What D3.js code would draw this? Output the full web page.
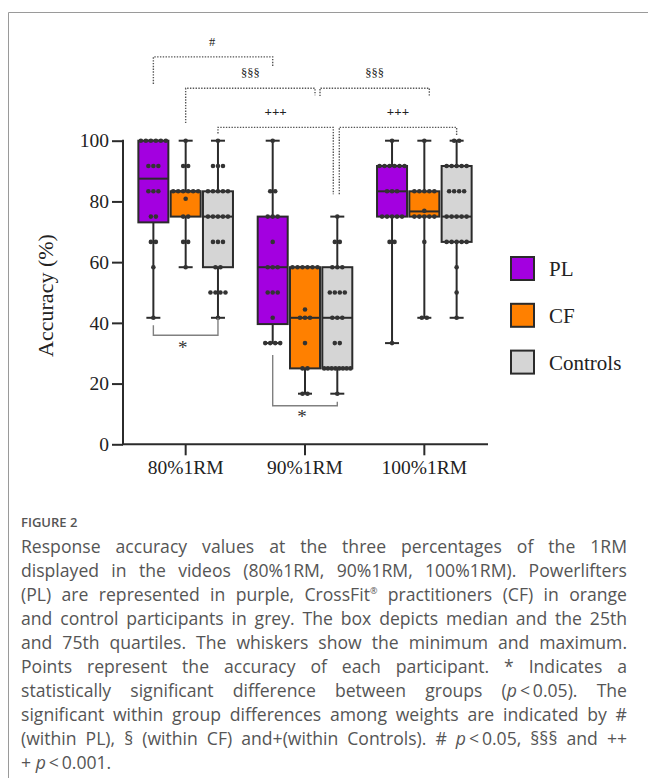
<!DOCTYPE html>
<html>
<head>
<meta charset="utf-8">
<script src="https://cdn.jsdelivr.net/npm/d3@7"></script>
<style>
  body { margin: 0; background: #fff; }
  #wrap { position: relative; width: 648px; height: 778px; overflow: hidden; }
  svg { position: absolute; left: 0; top: 0; }
  #caption { position: absolute; left: 21px; top: 510px; width: 606px; font-family: "Open Sans", sans-serif; color: #555; }
  #caption .fig { font-size: 13px; font-weight: 600; line-height: 24px; }
  #caption .ln { font-size: 17.6px; line-height: 24px; text-align: justify; text-align-last: justify; white-space: nowrap; }
  #caption .ln.last { text-align-last: left; }
  #caption sup { font-size: 9px; line-height: 0; }
</style>
</head>
<body>
<div id="wrap"></div>
<script>
const width = 648;
const height = 778;

const weights = ["80%1RM", "90%1RM", "100%1RM"];
const groups = ["PL", "CF", "Controls"];
const colors = ["#a300e0", "#ff8000", "#d5d5d5"];
const yTicks = [0, 20, 40, 60, 80, 100];

// box stats per weight: [min, q1, median, q3, max]
const plBox = [[41.67, 73.1, 87.5, 100, 100], [33.33, 39.6, 58.33, 75, 100], [33.33, 75, 83.33, 91.67, 100]];
const cfBox = [[58.33, 75, 83.33, 83.33, 100], [16.67, 25, 41.67, 58.33, 58.33], [41.67, 75, 76.7, 83.33, 100]];
const ctrlBox = [[41.67, 58.33, 75, 83.33, 100], [16.67, 25, 41.67, 58.33, 75], [41.67, 66.67, 75, 91.67, 100]];

// participant points per weight: [value, how many]
const plPoints = [
  [[100, 6], [91.67, 3], [83.33, 3], [75, 2], [66.67, 2], [58.33, 1], [41.67, 1]],
  [[100, 1], [83.33, 2], [75, 3], [66.67, 1], [58.33, 3], [50, 3], [41.67, 1], [33.33, 4]],
  [[100, 1], [91.67, 6], [83.33, 3], [75, 5], [66.67, 2], [33.33, 1]]
];
const cfPoints = [
  [[100, 1], [91.67, 2], [83.33, 6], [80.9, 1], [75, 2], [66.67, 2], [58.33, 1]],
  [[58.33, 6], [44.4, 1], [41.67, 3], [33.33, 1], [25, 2], [16.67, 2]],
  [[100, 1], [83.33, 5], [76.9, 1], [75, 5], [66.67, 1], [41.67, 2]]
];
const ctrlPoints = [
  [[100, 1], [91.67, 3], [83.33, 5], [75, 5], [66.67, 3], [58.33, 2], [50, 4], [41.67, 1]],
  [[75, 1], [66.67, 2], [58.33, 3], [50, 4], [41.67, 3], [33.33, 2], [25, 8], [16.67, 1]],
  [[100, 2], [91.67, 5], [83.33, 4], [75, 5], [66.67, 5], [58.33, 1], [50, 1], [41.67, 1]]
];

const boxes = [plBox, cfBox, ctrlBox];
const points = [plPoints, cfPoints, ctrlPoints];

const svg = d3.select("#wrap").append("svg")
  .attr("width", width)
  .attr("height", height)
  .style("font-family", "'Liberation Serif', 'Times New Roman', serif");

// frame
svg.append("path")
  .attr("d", "M8.5,778V12.5H648")
  .attr("fill", "none")
  .attr("stroke", "#9a9a9a")
  .attr("stroke-width", 1);

const y = d3.scaleLinear().domain([0, 100]).range([444.3, 140.7]);
const x = d3.scaleBand().domain(weights).range([126, 484]);
const off = d3.scalePoint().domain(groups).range([-32.3, 32.3]);
const cx = (w, g) => x(w) + x.bandwidth() / 2 + off(g);
const boxW = 30;
const ink = "#2b2b2b";

// axes
const yAxis = svg.append("g")
  .attr("transform", "translate(123,0)")
  .call(d3.axisLeft(y).tickValues(yTicks).tickSize(11).tickPadding(3));
yAxis.select(".domain").remove();
yAxis.append("line").attr("y1", y(100) - 1).attr("y2", y(0)).attr("stroke", ink).attr("stroke-width", 2);
yAxis.selectAll(".tick line").attr("stroke", ink).attr("stroke-width", 2);
yAxis.selectAll(".tick text")
  .attr("fill", "#222")
  .style("font-size", "19.5px")
  .style("font-family", "'Liberation Serif', serif");

const xAxis = svg.append("g")
  .attr("transform", `translate(0,${y(0)})`)
  .call(d3.axisBottom(x).tickSize(11).tickPadding(5));
xAxis.select(".domain").remove();
xAxis.append("line").attr("x1", 122).attr("x2", 488).attr("stroke", ink).attr("stroke-width", 2);
xAxis.selectAll(".tick line").attr("stroke", ink).attr("stroke-width", 2);
xAxis.selectAll(".tick text")
  .attr("fill", "#222")
  .style("font-size", "19.5px")
  .style("font-family", "'Liberation Serif', serif");

svg.append("text")
  .attr("transform", `translate(53,${(y(0) + y(100)) / 2 + 3}) rotate(-90)`)
  .attr("text-anchor", "middle")
  .attr("fill", "#222")
  .style("font-size", "22px")
  .text("Accuracy (%)");

// boxes, whiskers, points
groups.forEach((g, gi) => {
  weights.forEach((w, wi) => {
    const [mn, q1, md, q3, mx] = boxes[gi][wi];
    const c = cx(w, g);
    const gg = svg.append("g");
    gg.append("line").attr("x1", c).attr("x2", c).attr("y1", y(mx)).attr("y2", y(mn))
      .attr("stroke", ink).attr("stroke-width", 2);
    [mn, mx].forEach((v) => {
      gg.append("line").attr("x1", c - 7).attr("x2", c + 7).attr("y1", y(v)).attr("y2", y(v))
        .attr("stroke", ink).attr("stroke-width", 2);
    });
    gg.append("rect")
      .attr("x", c - boxW / 2).attr("width", boxW)
      .attr("y", y(q3)).attr("height", y(q1) - y(q3))
      .attr("fill", colors[gi]).attr("stroke", ink).attr("stroke-width", 2);
    gg.append("line").attr("x1", c - boxW / 2).attr("x2", c + boxW / 2).attr("y1", y(md)).attr("y2", y(md))
      .attr("stroke", ink).attr("stroke-width", 2);

    points[gi][wi].forEach(([v, n]) => {
      const sp = Math.min(5, 30 / n);
      d3.range(n).forEach((i) => {
        gg.append("circle")
          .attr("cx", c + (i - (n - 1) / 2) * sp)
          .attr("cy", y(v))
          .attr("r", 2.3)
          .attr("fill", "#333");
      });
    });
  });
});

// legend
const legend = svg.append("g");
groups.forEach((g, i) => {
  const ly = 257 + i * 46.8;
  legend.append("rect").attr("x", 511).attr("y", ly).attr("width", 23).attr("height", 23)
    .attr("fill", colors[i]).attr("stroke", ink).attr("stroke-width", 2);
  legend.append("text").attr("x", 549).attr("y", ly + 19).attr("fill", "#222")
    .style("font-size", "21px").text(g);
});

// within-group brackets (dotted)
const dotted = [
  { x1: cx("80%1RM", "PL"), x2: cx("90%1RM", "PL"), yl: 127.6, e1: 118.7, e2: 124.6, label: "#", ly: 132.6, lx: 212 },
  { x1: cx("80%1RM", "CF"), x2: cx("90%1RM", "CF") + 10, yl: 117.3, e1: 105.8, e2: 115, label: "§§§", ly: 122.4 },
  { x1: cx("90%1RM", "CF") + 15, x2: cx("100%1RM", "CF") + 5, yl: 117.3, e1: 114.7, e2: 114.7, label: "§§§", ly: 122.4 },
  { x1: cx("80%1RM", "Controls"), x2: cx("90%1RM", "Controls") - 4, yl: 104.4, e1: 102.4, e2: 82.4, label: "+++", ly: 109.7 },
  { x1: cx("90%1RM", "Controls") + 2, x2: cx("100%1RM", "Controls"), yl: 104.4, e1: 82.4, e2: 101.9, label: "+++", ly: 109.7 }
];
dotted.forEach((b) => {
  svg.append("path")
    .attr("d", `M${b.x1},${y(b.e1)}V${y(b.yl)}H${b.x2}V${y(b.e2)}`)
    .attr("fill", "none").attr("stroke", "#555").attr("stroke-width", 1.4)
    .attr("stroke-dasharray", "1.4,1.4");
  svg.append("text")
    .attr("x", b.lx || (b.x1 + b.x2) / 2)
    .attr("y", y(b.ly) + 4.5)
    .attr("text-anchor", "middle")
    .attr("fill", "#222")
    .style("font-size", b.label === "+++" ? "13px" : "12.5px")
    .style("font-weight", b.label === "+++" ? "bold" : "normal")
    .text(b.label);
});

// between-group brackets (solid)
const solid = [
  { x1: cx("80%1RM", "PL"), x2: cx("80%1RM", "Controls"), yl: 35.9, e1: 39.2, e2: 41.6, ly: 32.5 },
  { x1: cx("90%1RM", "PL"), x2: cx("90%1RM", "Controls"), yl: 12.7, e1: 29.4, e2: 14, ly: 9.5 }
];
solid.forEach((b) => {
  svg.append("path")
    .attr("d", `M${b.x1},${y(b.e1)}V${y(b.yl)}H${b.x2}V${y(b.e2)}`)
    .attr("fill", "none").attr("stroke", "#808080").attr("stroke-width", 1.4);
  svg.append("text")
    .attr("x", (b.x1 + b.x2) / 2 - 3)
    .attr("y", y(b.ly) + 8)
    .attr("text-anchor", "middle")
    .attr("fill", "#333")
    .style("font-size", "19px")
    .text("*");
});

// caption
const captionLines = [
  "Response accuracy values at the three percentages of the 1RM",
  "displayed in the videos (80%1RM, 90%1RM, 100%1RM). Powerlifters",
  "(PL) are represented in purple, CrossFit<sup>®</sup> practitioners (CF) in orange",
  "and control participants in grey. The box depicts median and the 25th",
  "and 75th quartiles. The whiskers show the minimum and maximum.",
  "Points represent the accuracy of each participant. * Indicates a",
  "statistically significant difference between groups (<i>p</i>\u2009<\u20090.05). The",
  "significant within group differences among weights are indicated by #",
  "(within PL), § (within CF) and+(within Controls). # <i>p</i>\u2009<\u20090.05, §§§ and ++",
  "+ <i>p</i>\u2009<\u20090.001."
];
const cap = d3.select("#wrap").append("div").attr("id", "caption");
cap.append("div").attr("class", "fig").text("FIGURE 2");
cap.selectAll("div.ln")
  .data(captionLines)
  .enter()
  .append("div")
  .attr("class", (d, i) => (i === captionLines.length - 1 ? "ln last" : "ln"))
  .html((d) => d);
</script>
</body>
</html>
